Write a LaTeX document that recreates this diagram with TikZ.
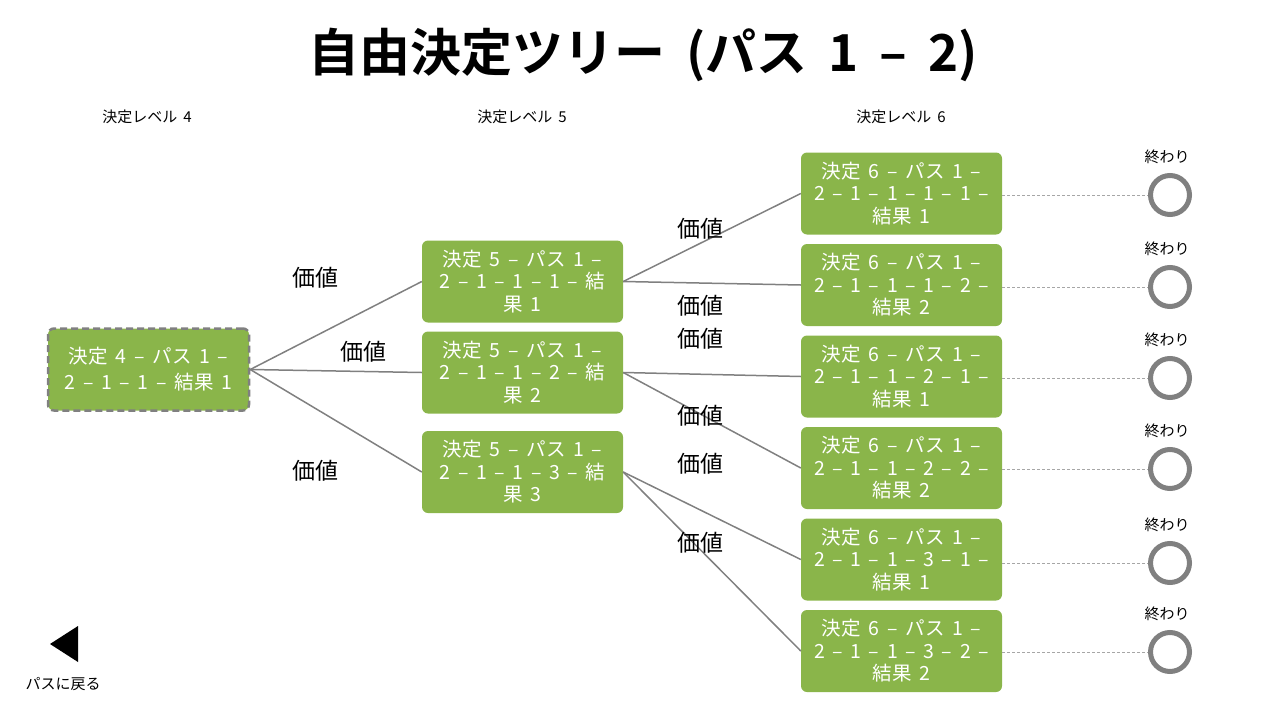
\documentclass[tikz,border=0pt]{standalone}
\usepackage{fontspec}
\setmainfont{Noto Sans CJK JP}
\newfontfamily\jpbold{Noto Sans CJK JP Bold}[WordSpace=1.8]
\newfontfamily\jpwide{Noto Sans CJK JP}[WordSpace=1.6, LetterSpace=2]
\newfontfamily\jpsmall{Noto Sans CJK JP}[WordSpace=1.8]
\usetikzlibrary{positioning}
\definecolor{nodegreen}{RGB}{138,181,74}
\definecolor{linegrey}{RGB}{128,128,128}
\tikzset{
  dnode/.style={fill=nodegreen, rounded corners=6pt, minimum width=201pt, minimum height=82pt, text=white, align=center, font=\jpwide\fontsize{19.5}{22.5}\selectfont, inner sep=0pt},
  dstart/.style={dnode, draw=linegrey, line width=2.5pt, dash pattern=on 7pt off 4pt, font=\jpwide\fontsize{19.5}{26}\selectfont},
  conn/.style={draw=linegrey, line width=1.5pt},
  endline/.style={draw=linegrey!70, line width=0.8pt, dash pattern=on 3pt off 2pt},
  endcirc/.style={circle, draw=linegrey, line width=5pt, minimum size=39pt, inner sep=0pt},
  vallabel/.style={font=\fontsize{23}{26}\selectfont, text=black},
  smalltext/.style={font=\jpsmall\fontsize{15}{17}\selectfont, text=black},
}
\begin{document}
\begin{tikzpicture}[x=1pt, y=-1pt]
\useasboundingbox (0,0) rectangle (1280,720);
\node[font=\jpbold\fontsize{51}{56}\selectfont] (title) at (643,55) {自由決定ツリー (パス 1 – 2)};
\node[smalltext] (h4) at (147,117) {決定レベル 4};
\node[smalltext] (h5) at (522,117) {決定レベル 5};
\node[smalltext] (h6) at (901,117) {決定レベル 6};

\node[dstart] (d4) at (148.5,369.5) {決定 4 – パス 1 –\\2 – 1 – 1 – 結果 1};

\node[dnode] (d51) at (522.5,281.5) {決定 5 – パス 1 –\\2 – 1 – 1 – 1 – 結\\果 1};
\node[dnode] (d52) at (522.5,372.5) {決定 5 – パス 1 –\\2 – 1 – 1 – 2 – 結\\果 2};
\node[dnode] (d53) at (522.5,472) {決定 5 – パス 1 –\\2 – 1 – 1 – 3 – 結\\果 3};

\node[dnode] (d61) at (901.5,193.5) {決定 6 – パス 1 –\\2 – 1 – 1 – 1 – 1 –\\結果 1};
\node[dnode] (d62) at (901.5,285) {決定 6 – パス 1 –\\2 – 1 – 1 – 1 – 2 –\\結果 2};
\node[dnode] (d63) at (901.5,376.5) {決定 6 – パス 1 –\\2 – 1 – 1 – 2 – 1 –\\結果 1};
\node[dnode] (d64) at (901.5,468) {決定 6 – パス 1 –\\2 – 1 – 1 – 2 – 2 –\\結果 2};
\node[dnode] (d65) at (901.5,559.5) {決定 6 – パス 1 –\\2 – 1 – 1 – 3 – 1 –\\結果 1};
\node[dnode] (d66) at (901.5,651) {決定 6 – パス 1 –\\2 – 1 – 1 – 3 – 2 –\\結果 2};

\foreach \i/\y in {1/195,2/287,3/378,4/469,5/563,6/652}{
  \node[endcirc] (e\i) at (1170,\y) {};
  \node[smalltext] (el\i) at (1167,\y-38) {終わり};
  \draw[endline] (d6\i.east |- e\i) -- (e\i.west);
}

\draw[conn] (d4.east) -- (d51.west);
\draw[conn] (d4.east) -- (d52.west);
\draw[conn] (d4.east) -- (d53.west);
\draw[conn] (d51.east) -- (d61.west);
\draw[conn] (d51.east) -- (d62.west);
\draw[conn] (d52.east) -- (d63.west);
\draw[conn] (d52.east) -- (d64.west);
\draw[conn] (d53.east) -- (d65.west);
\draw[conn] (d53.east) -- (d66.west);

\node[vallabel] (v1) at (315,278) {価値};
\node[vallabel] (v2) at (363,352) {価値};
\node[vallabel] (v3) at (315,471) {価値};
\node[vallabel] (v4) at (700,229) {価値};
\node[vallabel] (v5) at (700,306) {価値};
\node[vallabel] (v6) at (700,339) {価値};
\node[vallabel] (v7) at (700,416) {価値};
\node[vallabel] (v8) at (700,464) {価値};
\node[vallabel] (v9) at (700,543) {価値};

\fill[black] (50,644) -- (78,626) -- (78,662) -- cycle;
\node[smalltext] (back) at (63,684) {パスに戻る};
\end{tikzpicture}
\end{document}
